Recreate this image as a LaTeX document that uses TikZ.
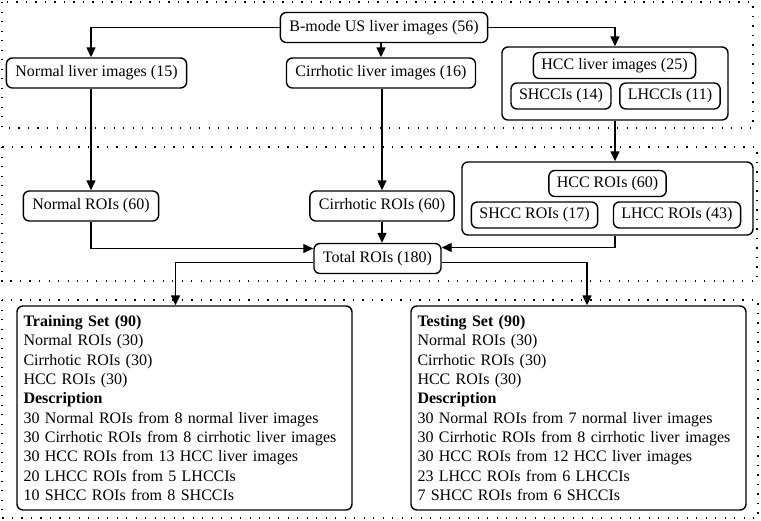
\documentclass[tikz,border=0pt]{standalone}
\usepackage{fontspec}
\setmainfont{Liberation Serif}
\usepackage{tikz}
\usetikzlibrary{arrows.meta}

\begin{document}
\begin{tikzpicture}[x=1pt,y=-1pt,
    box/.style={draw,line width=1.4pt,rounded corners=6pt,inner xsep=9pt,minimum height=30pt,
                font=\fontsize{16}{19.3}\selectfont},
    inbox/.style={box,minimum height=26pt,inner xsep=8pt},
    frame/.style={draw,line width=1.4pt,rounded corners=6pt},
    group/.style={line width=1.3pt,dash pattern=on 1.3pt off 8.2pt},
    arr/.style={line width=1.4pt,-{Triangle[length=10pt,width=9pt]}}]
                    \useasboundingbox (0,0) rectangle (761,520);

                    % dotted groups
                    \draw[group] (2,2) rectangle (753,128);
                    \draw[group] (2,147) rectangle (757,281);
                    \draw[group] (2,300) rectangle (758,518);

                    % images
                    \node[box] (bmode) at (384,27.5) {B-mode US liver images (56)};
                    \node[box] (nli) at (96.5,73) {Normal liver images (15)};
                    \node[box] (cli) at (381,73) {Cirrhotic liver images (16)};
                    \node[frame,minimum width=226pt,minimum height=73pt] (hccimg) at (615,83.5) {};
                    \node[inbox] (hli) at (614.5,65.5) {HCC liver images (25)};
                    \node[inbox] (shcci) at (561,96) {SHCCIs (14)};
                    \node[inbox] (lhcci) at (670,96) {LHCCIs (11)};

                    % ROIs
                    \node[box] (nroi) at (91,206) {Normal ROIs (60)};
                    \node[box] (croi) at (382,206) {Cirrhotic ROIs (60)};
                    \node[frame,minimum width=291pt,minimum height=73pt] (hccroi) at (607.5,198.5) {};
                    \node[inbox] (hroi) at (607.5,183.5) {HCC ROIs (60)};
                    \node[inbox] (shroi) at (534.5,215) {SHCC ROIs (17)};
                    \node[inbox] (lhroi) at (677,215) {LHCC ROIs (43)};
                    \node[box] (total) at (377.5,258.5) {Total ROIs (180)};

                    % sets
                    \node[box,align=left,text width=322pt,inner xsep=6.5pt,minimum height=204pt] (train) at (184.5,408)
                        {\textbf{Training Set (90)}\\Normal ROIs (30)\\Cirrhotic ROIs (30)\\HCC ROIs (30)\\\textbf{Description}\\
                         30 Normal ROIs from 8 normal liver images\\30 Cirrhotic ROIs from 8 cirrhotic liver images\\
                         30 HCC ROIs from 13 HCC liver images\\20 LHCC ROIs from 5 LHCCIs\\10 SHCC ROIs from 8 SHCCIs};
                    \node[box,align=left,text width=322pt,inner xsep=6.5pt,minimum height=204pt] (test) at (578.5,408)
                        {\textbf{Testing Set (90)}\\Normal ROIs (30)\\Cirrhotic ROIs (30)\\HCC ROIs (30)\\\textbf{Description}\\
                         30 Normal ROIs from 7 normal liver images\\30 Cirrhotic ROIs from 8 cirrhotic liver images\\
                         30 HCC ROIs from 12 HCC liver images\\23 LHCC ROIs from 6 LHCCIs\\7 SHCC ROIs from 6 SHCCIs};

                    % connectors
                    \draw[arr] (bmode.west) -| (nli.north -| nroi.north);
                    \draw[arr] (bmode.south -| cli.north) -- (cli.north);
                    \draw[arr] (bmode.east) -| (hccimg.north);
                    \draw[arr] (nli.south -| nroi.north) -- (nroi.north);
                    \draw[arr] (cli.south -| croi.north) -- (croi.north);
                    \draw[arr] (hccimg.south) -- (hccroi.north -| hccimg.south);
                    \draw[arr] (nroi.south) |- ([yshift=10pt]total.west);
                    \draw[arr] (croi.south) -- (total.north -| croi.south);
                    \draw[arr] (hccroi.south -| hccimg.south) |- ([yshift=11pt]total.east);
                    \draw[arr] ([yshift=-4pt]total.west) -| ([xshift=-9pt]train.north);
                    \draw[arr] ([yshift=-4pt]total.east) -| ([xshift=8.5pt]test.north);
                \end{tikzpicture}
\end{document}
